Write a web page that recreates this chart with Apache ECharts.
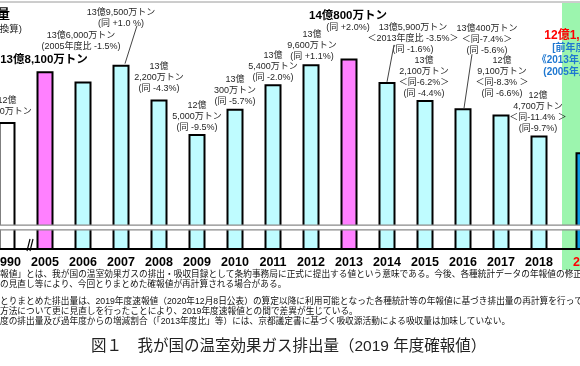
<!DOCTYPE html>
<html><head><meta charset="utf-8">
<script src="https://cdn.jsdelivr.net/npm/echarts@6/dist/echarts.min.js"></script>
<style>html,body{margin:0;padding:0;background:#fff;overflow:hidden}#c{width:580px;height:366px}</style>
</head><body><div id="c"></div>
<script>
// ---- data ----
const years = ['1990','2005','2006','2007','2008','2009','2010','2011','2012','2013','2014','2015','2016','2017','2018','2019'];
const emissions = [12.75,13.81,13.60,13.95,13.22,12.50,13.03,13.54,13.96,14.08,13.59,13.21,13.04,12.91,12.47,12.12]; // 億トン
const annotations = [
  ['12億','7,500万トン'],
  ['13億8,100万トン'],
  ['13億6,000万トン','(2005年度比 -1.5%)'],
  ['13億9,500万トン','(同 +1.0 %)'],
  ['13億','2,200万トン','(同 -4.3%)'],
  ['12億','5,000万トン','(同 -9.5%)'],
  ['13億','300万トン','(同 -5.7%)'],
  ['13億','5,400万トン','(同 -2.0%)'],
  ['13億','9,600万トン','(同 +1.1%)'],
  ['14億800万トン','(同 +2.0%)'],
  ['13億5,900万トン','＜2013年度比 -3.5%＞','(同 -1.6%)'],
  ['13億','2,100万トン','＜同-6.2%＞','(同 -4.4%)'],
  ['13億400万トン','＜同-7.4%＞','(同 -5.6%)'],
  ['12億','9,100万トン','＜同-8.3% ＞','(同 -6.6%)'],
  ['12億','4,700万トン','＜同-11.4% ＞','(同-9.7%)'],
  ['12億1,200万トン','[前年度比 -2.9%]','《2013年度比 -14.0%》','(2005年度比 -12.2%)']
];
const footnotes = [
  '「確報値」とは、我が国の温室効果ガスの排出・吸収目録として条約事務局に正式に提出する値という意味である。今後、各種統計データの年報値の修正、',
  '方法の見直し等により、今回とりまとめた確報値が再計算される場合がある。',
  '今回とりまとめた排出量は、2019年度速報値（2020年12月8日公表）の算定以降に利用可能となった各種統計等の年報値に基づき排出量の再計算を行っていること、',
  '算定方法について更に見直しを行ったことにより、2019年度速報値との間で差異が生じている。',
  '各年度の排出量及び過年度からの増減割合（「2013年度比」等）には、京都議定書に基づく吸収源活動による吸収量は加味していない。'
];
const titleText = '図１　我が国の温室効果ガス排出量（2019 年度確報値）';
const headText = '温室効果ガス排出量';
const unitText = '(億トンCO₂換算)';

// ---- styles / layout ----
const F = "'Liberation Sans', 'Noto Sans CJK JP', sans-serif";
const barColors = ['#ffffff','#ff80ff','#bffcff','#bffcff','#bffcff','#bffcff','#bffcff','#bffcff','#bffcff','#ff80ff','#bffcff','#bffcff','#bffcff','#bffcff','#bffcff','#0b9be3'];
const labelStyles = [['s','s'],['b'],['s','s'],['s','s'],['s','s','s'],['s','s','s'],['s','s','s'],['s','s','s'],['s','s','s'],['b','s'],['s','s','s'],['s','s','s','s'],['s','s','s'],['s','s','s','s'],['s','s','s','s'],['r','c','c','c']];
const labelOffsets = [[0,-5],[-1,-5],[-2,-29],[0,-36],[0,-5.5],[0,-1.5],[0,-1.5],[0,-1.5],[1,-2.5],[-1,-25.5],[26,-26.5],[-1,-1],[24,-52.5],[1,-15.5],[-1,-1.5],[6,-74]];
const leaders = [{i:3, from:[16,-39], to:[4,-1]}, {i:10, from:[7,-37], to:[0,0]}, {i:12, from:[9,-54], to:[1,0]}];
const Y_MIN = 10.1, Y_MAX = 15.3, BREAK = [10.60, 10.50];
const last = years.length - 1;

const rich = {
  s: {fontSize: 9, color: '#262626', lineHeight: 11, fontFamily: F},
  b: {fontSize: 11.5, fontWeight: 'bold', color: '#000', lineHeight: 13, fontFamily: F},
  r: {fontSize: 12, fontWeight: 'bold', color: '#ff0000', lineHeight: 13, fontFamily: F},
  c: {fontSize: 10, fontWeight: 'bold', color: '#1f78d1', lineHeight: 12, fontFamily: F}
};
function fmt(p) {
  const i = p.dataIndex;
  return annotations[i].map((t, k) => '{' + labelStyles[i][k] + '|' + t + '}').join('\n');
}
function item(i) {
  return {value: emissions[i], itemStyle: {color: barColors[i]}, label: {offset: labelOffsets[i]}};
}
const dataA = years.map((y, i) => i === last ? '-' : item(i));
const dataB = years.map((y, i) => i === last ? item(i) : '-');

const chart = echarts.init(document.getElementById('c'), null, {renderer: 'canvas'});
const commonLabel = {show: true, position: 'top', distance: 0, formatter: fmt, rich: rich};
chart.setOption({
  animation: false,
  backgroundColor: '#fff',
  grid: [
    {left: -12, right: -16, top: 0, bottom: 117, containLabel: false, outerBoundsMode: 'none'},
    {left: -5, right: -23, top: 0, bottom: 117, containLabel: false, outerBoundsMode: 'none'}
  ],
  xAxis: [
    {type: 'category', gridIndex: 0, data: years, z: 3,
     axisTick: {show: false},
     axisLine: {lineStyle: {color: '#000', width: 2}},
     axisLabel: {interval: 0, margin: 7, color: '#000', fontWeight: 'bold', fontSize: 12.5, fontFamily: F,
       formatter: v => v === years[last] ? '{r|' + v + '}' : v,
       rich: {r: {color: '#ff0000', fontWeight: 'bold', fontSize: 12.5, fontFamily: F, padding: [0, 0, 0, 20]}}}},
    {type: 'category', gridIndex: 1, data: years, show: false}
  ],
  yAxis: [
    {type: 'value', gridIndex: 0, min: Y_MIN, max: Y_MAX, show: false},
    {type: 'value', gridIndex: 1, min: Y_MIN, max: Y_MAX, show: false}
  ],
  series: [
    {type: 'bar', xAxisIndex: 0, yAxisIndex: 0, barWidth: 17, data: dataA,
     itemStyle: {borderColor: '#000', borderWidth: 2}, label: commonLabel},
    {type: 'bar', xAxisIndex: 1, yAxisIndex: 1, barWidth: 17, data: dataB,
     itemStyle: {borderColor: '#000', borderWidth: 2}, label: commonLabel}
  ]
});

// ---- decorations computed from axes ----
const P = (i, v) => i === last
  ? chart.convertToPixel({xAxisIndex: 1, yAxisIndex: 1}, [i, v])
  : chart.convertToPixel({xAxisIndex: 0, yAxisIndex: 0}, [i, v]);
const yb1 = chart.convertToPixel({yAxisIndex: 0}, BREAK[0]);
const yb2 = chart.convertToPixel({yAxisIndex: 0}, BREAK[1]);
const yBase = chart.convertToPixel({yAxisIndex: 0}, Y_MIN);
const c19 = P(last, emissions[last]);
const gap = (P(0, Y_MIN)[0] + P(1, Y_MIN)[0]) / 2;

const g = [];
g.push({type: 'rect', z: 0, shape: {x: c19[0] - 22, y: 3, width: 60, height: 267}, style: {fill: '#9cf5ae'}});
g.push({type: 'line', z: 20, shape: {x1: 0, y1: 2, x2: 580, y2: 2}, style: {stroke: '#9a9a9a', lineWidth: 1}});
g.push({type: 'rect', z: 20, shape: {x: -5, y: yb1, width: 600, height: yb2 - yb1}, style: {fill: '#fff', stroke: '#8a8a8a', lineWidth: 1.3}});
g.push({type: 'line', z: 20, shape: {x1: gap + 1, y1: yBase + 2, x2: gap + 4, y2: yBase - 10}, style: {stroke: '#000', lineWidth: 1.2}});
g.push({type: 'line', z: 20, shape: {x1: gap + 4, y1: yBase + 2, x2: gap + 7, y2: yBase - 10}, style: {stroke: '#000', lineWidth: 1.2}});
leaders.forEach(L => {
  const p = P(L.i, emissions[L.i]);
  g.push({type: 'line', z: 20, shape: {x1: p[0] + L.from[0], y1: p[1] + L.from[1], x2: p[0] + L.to[0], y2: p[1] + L.to[1]}, style: {stroke: '#444', lineWidth: 1}});
});
g.push({type: 'text', z: 20, style: {text: headText, x: 10, y: 14, align: 'right', verticalAlign: 'middle', font: 'bold 13px ' + F, fill: '#000'}});
g.push({type: 'text', z: 20, style: {text: unitText, x: 22, y: 29, align: 'right', verticalAlign: 'middle', font: '9.5px ' + F, fill: '#222'}});
const fnY = [275, 285, 301.5, 311.5, 321.5];
footnotes.forEach((t, k) => {
  g.push({type: 'text', z: 20, style: {text: t, x: -17.4, y: fnY[k], align: 'left', verticalAlign: 'middle', font: '8.7px ' + F, fill: '#111'}});
});
g.push({type: 'text', z: 20, style: {text: titleText, x: 91, y: 347, align: 'left', verticalAlign: 'middle', font: '15.5px ' + F, fill: '#222'}});
chart.setOption({graphic: {elements: g}});
</script>
</body></html>
